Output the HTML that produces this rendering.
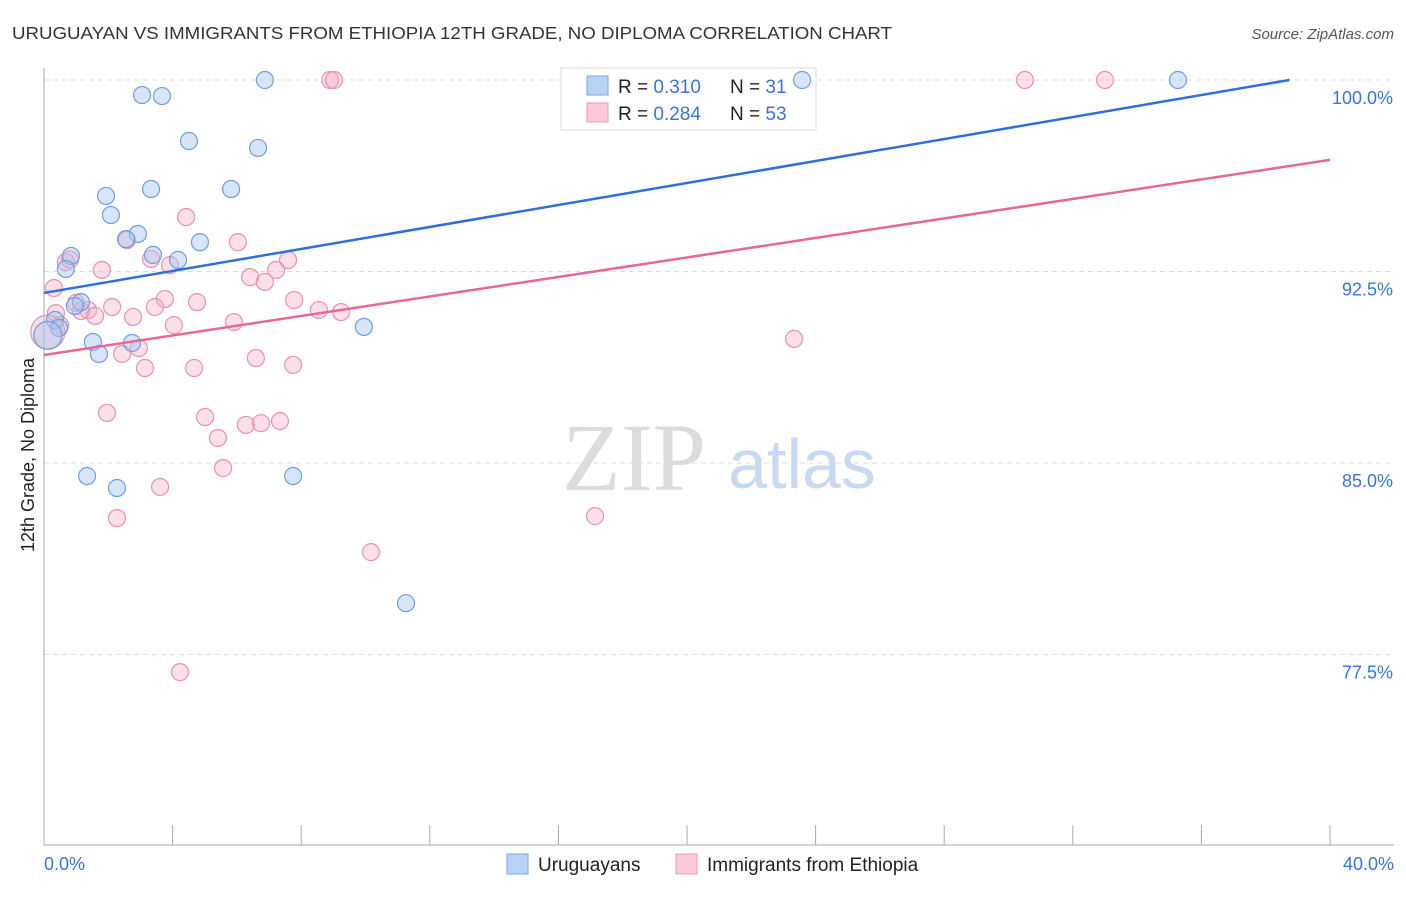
<!DOCTYPE html>
<html><head><meta charset="utf-8"><style>
body{margin:0;background:#fff;font-family:"Liberation Sans",sans-serif}
</style></head><body>
<svg width="1406" height="892" xmlns="http://www.w3.org/2000/svg" font-family="Liberation Sans, sans-serif">
<text x="12" y="39" font-size="17.5" fill="#333" textLength="880" lengthAdjust="spacingAndGlyphs">URUGUAYAN VS IMMIGRANTS FROM ETHIOPIA 12TH GRADE, NO DIPLOMA CORRELATION CHART</text>
<text x="1394" y="39" font-size="15" fill="#555" font-style="italic" text-anchor="end">Source: ZipAtlas.com</text>
<g id="grid"></g>
<g>
<text x="634" y="490" font-size="96" font-family="Liberation Serif, serif" fill="#dcdcdc" text-anchor="middle">ZIP</text>
<text x="802" y="488" font-size="70" fill="#c8daf2" text-anchor="middle">atlas</text>
</g>
<g id="axes"></g>
<g>
<rect x="561" y="68" width="255" height="62" fill="#fff" stroke="#ddd"/>
<rect x="587" y="76" width="21" height="19" fill="#b8d2f5" stroke="#7aa6e6"/>
<rect x="587" y="103" width="21" height="19" fill="#fbc9d8" stroke="#eb9ab5"/>
<text x="618" y="93" font-size="19" fill="#222">R = <tspan fill="#3a74d6">0.310</tspan></text>
<text x="730" y="93" font-size="19" fill="#222">N = <tspan fill="#3a74d6"> 31</tspan></text>
<text x="618" y="120" font-size="19" fill="#222">R = <tspan fill="#3a74d6">0.284</tspan></text>
<text x="730" y="120" font-size="19" fill="#222">N = <tspan fill="#3a74d6">53</tspan></text>
</g>
<g id="pts"></g>
<g id="lines"></g>
<text transform="translate(34,455) rotate(-90)" font-size="18" fill="#222" text-anchor="middle">12th Grade, No Diploma</text>
<text x="44" y="870" font-size="18" fill="#3a74d6">0.0%</text>
<text x="1394" y="870" font-size="18" fill="#3a74d6" text-anchor="end">40.0%</text>
<g>
<rect x="507" y="854" width="21" height="20" fill="#b8d2f5" stroke="#7aa6e6"/>
<text x="538" y="871" font-size="19" fill="#222">Uruguayans</text>
<rect x="676" y="854" width="21" height="20" fill="#fbc9d8" stroke="#eb9ab5"/>
<text x="707" y="871" font-size="19" fill="#222">Immigrants from Ethiopia</text>
</g>
</svg>
<script>
const yTicks=[100,92.5,85,77.5];
const yTickLabels=["100.0%","92.5%","85.0%","77.5%"];
const xTicks=[0,4,8,12,16,20,24,28,32,36,40];
const blueX=[6.87,3.05,3.67,4.51,6.66,1.93,3.33,5.82,2.08,2.92,2.55,4.85,3.39,4.17,0.84,0.68,1.15,0.96,0.34,0.47,1.52,1.71,2.74,9.95,1.34,2.27,7.75,11.26,23.58,35.27,0.12];
const blueY=[100,99.41,99.37,97.61,97.34,95.46,95.73,95.73,94.71,93.97,93.77,93.65,93.15,92.95,93.11,92.6,91.3,91.15,90.6,90.29,89.74,89.27,89.7,90.33,84.49,84.02,84.49,79.51,100,100,90.0];
const pinkX=[8.9,9.02,30.51,33.0,4.42,6.03,2.58,7.59,3.33,3.92,0.68,0.81,1.8,7.22,6.41,6.87,0.31,1.0,3.76,4.76,2.12,1.37,1.15,1.59,3.45,2.77,7.78,8.55,9.24,5.91,4.04,0.37,0.5,2.95,2.43,6.59,3.14,4.67,7.75,23.33,1.96,5.01,5.41,6.28,6.75,7.34,5.57,3.61,2.27,17.14,10.17,4.23,0.12];
const pinkY=[100,100,100,100,94.63,93.65,93.73,92.95,92.99,92.75,92.87,92.97,92.56,92.56,92.28,92.09,91.85,91.27,91.42,91.3,91.11,90.99,90.95,90.76,91.11,90.72,91.38,90.99,90.91,90.52,90.4,90.87,90.4,89.5,89.27,89.11,88.72,88.72,88.84,89.86,86.96,86.8,85.98,86.49,86.56,86.64,84.8,84.06,82.84,82.92,81.51,76.81,90.13];
const blueTrend=[91.66,0.2153];
const pinkTrend=[89.23,0.191];
const NS="http://www.w3.org/2000/svg";
const xs=v=>44+v/40*1286, ys=v=>80+(100-v)/7.5*191.5;
function mk(t,a,p){const e=document.createElementNS(NS,t);for(const k in a)e.setAttribute(k,a[k]);p.appendChild(e);return e;}
const grid=document.getElementById('grid'),axes=document.getElementById('axes');
yTicks.forEach((v,i)=>{
 const l=mk('line',{x1:44,x2:1394,y1:ys(v),y2:ys(v),stroke:'#ddd','stroke-dasharray':'5,4'},grid);
 
 
 const t=mk('text',{x:1393,y:ys(v)+24,'font-size':18,fill:'#3a74d6','text-anchor':'end'},axes);
 t.textContent=yTickLabels[i];
 
 
});
mk('line',{x1:44,x2:44,y1:68,y2:845,stroke:'#aaa'},axes);
mk('line',{x1:44,x2:1394,y1:845,y2:845,stroke:'#aaa'},axes);
xTicks.forEach(v=>{const t=mk('line',{x1:xs(v),x2:xs(v),y1:825,y2:845,stroke:'#aaa'},axes);
 
 });
const pts=document.getElementById('pts');
pinkX.forEach((x,i)=>{const c=mk('circle',{cx:xs(x),cy:ys(pinkY[i]),r:i==pinkX.length-1?17:8.5,fill:'rgba(246,176,200,0.4)',stroke:'#ea92b0','stroke-width':1.2},pts);
 
 });
blueX.forEach((x,i)=>{const c=mk('circle',{cx:xs(x),cy:ys(blueY[i]),r:i==blueX.length-1?14:8.5,fill:'rgba(166,198,240,0.45)',stroke:'#6e9fe0','stroke-width':1.2},pts);
 
 });
const lines=document.getElementById('lines');
let bx2=Math.min(40,(100-blueTrend[0])/blueTrend[1]);
const bl=mk('line',{x1:xs(0),y1:ys(blueTrend[0]),x2:xs(bx2),y2:ys(blueTrend[0]+blueTrend[1]*bx2),stroke:'#2f6fd6','stroke-width':2.5},lines);


const pl=mk('line',{x1:xs(0),y1:ys(pinkTrend[0]),x2:xs(40),y2:ys(pinkTrend[0]+pinkTrend[1]*40),stroke:'#e4689a','stroke-width':2.5},lines);


</script>
</body></html>
